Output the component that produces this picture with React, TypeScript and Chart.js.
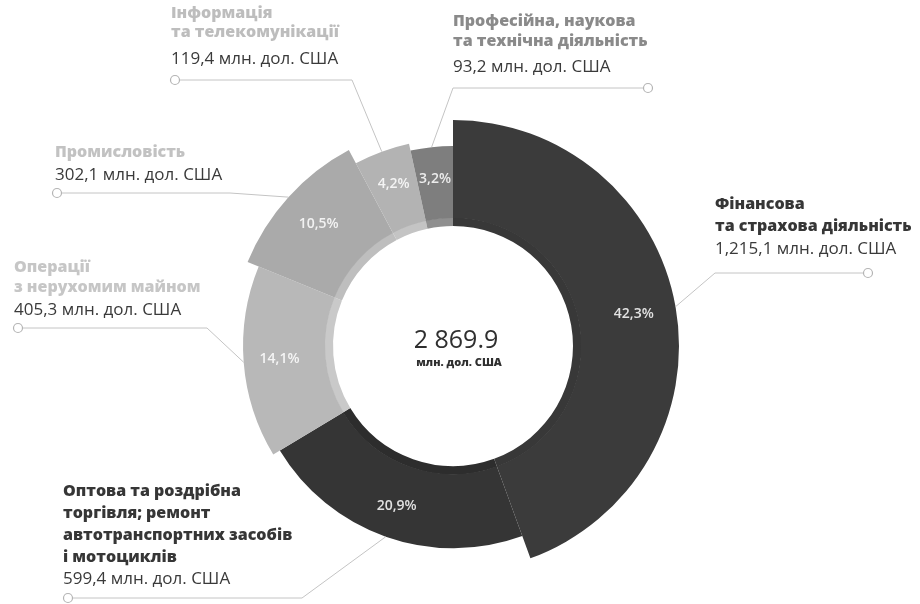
import React, { useEffect, useRef } from 'react';
import { Chart, registerables } from 'chart.js';

Chart.register(...registerables);

// ---------- data ----------
const categories = [
  'Фінансова та страхова діяльність',
  'Оптова та роздрібна торгівля; ремонт автотранспортних засобів і мотоциклів',
  'Операції з нерухомим майном',
  'Промисловість',
  'Інформація та телекомунікації',
  'Професійна, наукова та технічна діяльність',
];
const headingLines = [
  ['Фінансова', 'та страхова діяльність'],
  ['Оптова та роздрібна', 'торгівля; ремонт', 'автотранспортних засобів', 'і мотоциклів'],
  ['Операції', 'з нерухомим майном'],
  ['Промисловість'],
  ['Інформація', 'та телекомунікації'],
  ['Професійна, наукова', 'та технічна діяльність'],
];
const values = [1215.1, 599.4, 405.3, 302.1, 119.4, 93.2];
const valueLabels = [
  '1,215,1 млн. дол. США',
  '599,4 млн. дол. США',
  '405,3 млн. дол. США',
  '302,1 млн. дол. США',
  '119,4 млн. дол. США',
  '93,2 млн. дол. США',
];
const percentLabels = ['42,3%', '20,9%', '14,1%', '10,5%', '4,2%', '3,2%'];
const totalLabel = '2 869.9';
const unitLabel = 'млн. дол. США';

// ---------- styles ----------
const sliceColors = ['#3b3b3b', '#353535', '#b8b8b8', '#aaaaaa', '#b3b3b3', '#7e7e7e'];
const bandColors = ['#383838', '#2d2d2d', '#c9c9c9', '#bebebe', '#c4c4c4', '#8f8f8f'];
const headingColors = ['#363636', '#363636', '#c6c6c6', '#c2c2c2', '#bdbdbd', '#8a8a8a'];
const radiusScale = [1, 0.895, 0.929, 0.982, 0.916, 0.885];
const OUTER = 226;
const CUT = 128;
const HOLE = 120;
const HEAD_FONT = "800 16px 'Open Sans'";
const VALUE_FONT = "400 17px 'Open Sans'";
const callouts = [
  { x: 715, y: 209, lh: 21.5, vy: 254, lineY: 273, elbowX: 715, markerX: 868 },
  { x: 63, y: 496, lh: 22, vy: 584, lineY: 598, elbowX: 302, markerX: 68 },
  { x: 14, y: 272, lh: 20, vy: 315, lineY: 328, elbowX: 207, markerX: 18 },
  { x: 55, y: 157, lh: 20, vy: 180, lineY: 193, elbowX: 230, markerX: 57 },
  { x: 171, y: 18, lh: 19, vy: 64, lineY: 80, elbowX: 352, markerX: 175 },
  { x: 453, y: 26, lh: 20, vy: 72, lineY: 88, elbowX: 453, markerX: 648 },
];

const radiusPlugin = {
  id: 'varRadius',
  beforeDatasetsDraw(chart: any) {
    const m0 = chart.getDatasetMeta(0);
    m0.data.forEach((el: any, i: number) => {
      el.innerRadius = CUT;
      el.outerRadius = OUTER * radiusScale[i];
    });
    const m1 = chart.getDatasetMeta(1);
    m1.data.forEach((el: any) => {
      el.innerRadius = HOLE;
      el.outerRadius = CUT + 0.5;
    });
  },
};

const textPlugin = {
  id: 'texts',
  afterDraw(chart: any) {
    const ctx = chart.ctx as CanvasRenderingContext2D;
    const meta = chart.getDatasetMeta(0);
    ctx.save();
    // percent labels
    ctx.textAlign = 'center';
    ctx.textBaseline = 'middle';
    ctx.font = "600 14px 'Open Sans'";
    ctx.fillStyle = 'rgba(255,255,255,0.85)';
    meta.data.forEach((el: any, i: number) => {
      const mid = (el.startAngle + el.endAngle) / 2;
      const r = HOLE + 0.6 * (el.outerRadius - HOLE);
      ctx.fillText(percentLabels[i], el.x + Math.cos(mid) * r, el.y + Math.sin(mid) * r);
    });

    // callouts
    meta.data.forEach((el: any, i: number) => {
      const c = callouts[i];
      const mid = (el.startAngle + el.endAngle) / 2;
      const ax = el.x + Math.cos(mid) * el.outerRadius;
      const ay = el.y + Math.sin(mid) * el.outerRadius;
      const mr = 4.5;
      const dir = c.markerX > c.elbowX ? 1 : -1;
      ctx.strokeStyle = '#c4c4c4';
      ctx.lineWidth = 1;
      ctx.beginPath();
      ctx.moveTo(ax, ay);
      ctx.lineTo(c.elbowX, c.lineY);
      ctx.lineTo(c.markerX - dir * mr, c.lineY);
      ctx.stroke();
      ctx.beginPath();
      ctx.arc(c.markerX, c.lineY, mr, 0, Math.PI * 2);
      ctx.fillStyle = '#ffffff';
      ctx.fill();
      ctx.strokeStyle = '#b4b4b4';
      ctx.lineWidth = 1.2;
      ctx.stroke();

      ctx.textAlign = 'left';
      ctx.textBaseline = 'alphabetic';
      ctx.font = HEAD_FONT;
      ctx.fillStyle = headingColors[i];
      headingLines[i].forEach((line, k) => {
        ctx.fillText(line, c.x, c.y + k * c.lh);
      });
      ctx.font = VALUE_FONT;
      ctx.fillStyle = '#3a3a3a';
      ctx.fillText(valueLabels[i], c.x, c.vy);
    });

    // center
    const cx = meta.data[0].x;
    ctx.textAlign = 'center';
    ctx.textBaseline = 'alphabetic';
    ctx.fillStyle = '#2f2f2f';
    ctx.font = "500 25px 'Open Sans'";
    ctx.fillText(totalLabel, cx + 3, 348);
    ctx.font = "800 11px 'Open Sans'";
    ctx.fillText(unitLabel, cx + 6, 366);
    ctx.restore();
  },
};

export default function App() {
  const ref = useRef<HTMLCanvasElement>(null);
  useEffect(() => {
    const chart = new Chart(ref.current as HTMLCanvasElement, {
      type: 'doughnut',
      data: {
        labels: categories,
        datasets: [
          { data: values, backgroundColor: sliceColors, borderWidth: 0 },
          { data: values, backgroundColor: bandColors, borderWidth: 0 },
        ],
      },
      options: {
        responsive: false,
        animation: false,
        events: [],
        radius: OUTER,
        cutout: HOLE,
        layout: { padding: { left: 0, right: 14, top: 88, bottom: 0 } },
        plugins: { legend: { display: false }, tooltip: { enabled: false } },
      } as any,
      plugins: [radiusPlugin, textPlugin],
    });
    return () => chart.destroy();
  }, []);
  return (
    <div style={{ position: 'fixed', left: 0, top: 0, width: 920, height: 604, background: '#fff' }}>
      <canvas ref={ref} width={920} height={604} style={{ width: 920, height: 604, display: 'block' }} />
    </div>
  );
}
